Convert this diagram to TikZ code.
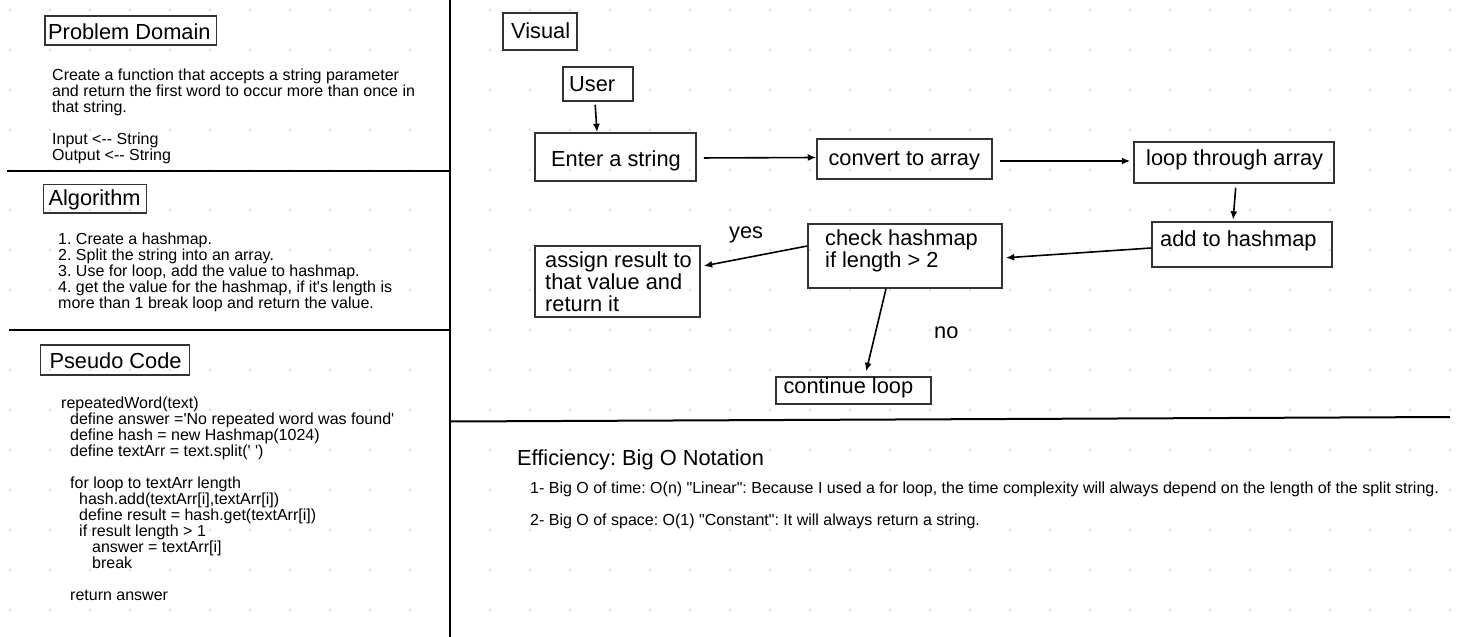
\documentclass[tikz,border=0pt]{standalone}
\usepackage{fontspec}
\newfontfamily\af{Liberation Sans}
\usetikzlibrary{arrows.meta}
\definecolor{boxc}{RGB}{51,51,51}
\definecolor{dotc}{RGB}{212,212,212}
\frenchspacing
\begin{document}
\begin{tikzpicture}[x=1pt,y=-1pt,
  box/.style={draw=boxc, line width=1.5pt, inner sep=0pt},
  big/.style={inner sep=0pt, anchor=base west, font=\af\frenchspacing\fontsize{21.8}{22}\selectfont},
  bigml/.style={inner sep=0pt, anchor=north west, align=left, font=\af\frenchspacing\fontsize{21.8}{22}\selectfont},
  body/.style={inner sep=0pt, anchor=north west, align=left, font=\af\frenchspacing\fontsize{16}{16}\selectfont},
  small/.style={inner sep=0pt, anchor=base west, font=\af\frenchspacing\fontsize{16}{16}\selectfont},
  arr/.style={line width=1.6pt, -{Latex[length=8.5pt,width=7pt]}},
  divider/.style={line width=2pt}]
\useasboundingbox (0,0) rectangle (1457,637);
\fill[white] (0,0) rectangle (1457,637);
% dot grid
\foreach \gx in {10,50,...,1450} {
  \foreach \gy in {10,50,...,630} {
    \fill[dotc] (\gx,\gy) circle[radius=1.1pt];
  }
}
% dividers
\draw[divider] (450,0) -- (450,637);
\draw[divider] (7,171) -- (450,171);
\draw[divider] (9,330) -- (450,330);
\draw[divider] (450,421.5) -- (1450,417);

% left panel: Problem Domain
\node[box, minimum width=171.5pt, minimum height=29pt] (pd) at (130.75,30.5) {};
\node[big] (pdT) at (48,39.3) {Problem Domain};
\node[body] (pdB) at (52,68.4) {Create a function that accepts a string parameter\\
and return the first word to occur more than once in\\
that string.\\[16pt]
Input <-- String\\
Output <-- String};

% Algorithm
\node[box, minimum width=103pt, minimum height=28.5pt] (alg) at (95,198.75) {};
\node[big] (algT) at (48.3,205) {Algorithm};
\node[body] (algB) at (58,232.4) {1. Create a hashmap.\\
2. Split the string into an array.\\
3. Use for loop, add the value to hashmap.\\
4. get the value for the hashmap, if it's length is\\
more than 1 break loop and return the value.};

% Pseudo Code
\node[box, minimum width=148.6pt, minimum height=30pt] (ps) at (115,360) {};
\node[big] (psT) at (49.3,368.3) {Pseudo Code};
\node[body] (psB) at (61,396.6) {repeatedWord(text)\\
\hspace*{9pt}define answer ='No repeated word was found'\\
\hspace*{9pt}define hash = new Hashmap(1024)\\
\hspace*{9pt}define textArr = text.split(' ')\\[16pt]
\hspace*{9pt}for loop to textArr length\\
\hspace*{18pt}hash.add(textArr[i],textArr[i])\\
\hspace*{18pt}define result = hash.get(textArr[i])\\
\hspace*{18pt}if result length > 1\\
\hspace*{31pt}answer = textArr[i]\\
\hspace*{31pt}break\\[16pt]
\hspace*{9pt}return answer};

% Visual
\node[box, minimum width=74pt, minimum height=37pt] (vis) at (540,31.5) {};
\node[big] (visT) at (511,38.3) {Visual};

% flowchart boxes
\node[box, minimum width=70pt, minimum height=34pt] (user) at (598,84) {};
\node[big] (userT) at (569,91.7) {User};
\node[box, minimum width=161pt, minimum height=48pt] (enter) at (615.5,157) {};
\node[big] (enterT) at (551,166) {Enter a string};
\node[box, minimum width=175pt, minimum height=40pt] (conv) at (904.5,159) {};
\node[big] (convT) at (828.3,165.7) {convert to array};
\node[box, minimum width=200pt, minimum height=41pt] (loop) at (1234,162.5) {};
\node[big] (loopT) at (1146,165) {loop through array};
\node[box, minimum width=180pt, minimum height=45pt] (add) at (1242,244.5) {};
\node[big] (addT) at (1160,246) {add to hashmap};
\node[box, minimum width=194pt, minimum height=64pt] (check) at (905,256) {};
\node[bigml] (checkT) at (825,229.4) {check hashmap\\if length > 2};
\node[box, minimum width=165pt, minimum height=71pt] (assign) at (617.5,281.5) {};
\node[bigml] (assignT) at (545,251.1) {assign result to\\that value and\\return it};
\node[box, minimum width=155pt, minimum height=27pt] (cont) at (853.5,390.5) {};
\node[big] (contT) at (783.3,393.3) {continue loop};
\node[big] (yes) at (729,238.3) {yes};
\node[big] (no) at (934,338.3) {no};

% connectors
\draw[arr, shorten <=3pt] ([xshift=-3pt]user.south) -- ([xshift=-18.5pt]enter.north);
\draw[arr, shorten <=7pt] ([yshift=-1pt]enter.east) -- ([yshift=1.5pt]conv.west);
\draw[arr, shorten <=7pt, shorten >=3pt] ([yshift=-2pt]conv.east) -- ([yshift=1.5pt]loop.west);
\draw[arr, shorten <=4pt, shorten >=1.5pt] ([xshift=2pt]loop.south) -- ([xshift=-9pt]add.north);
\draw[arr, shorten >=3pt] ([yshift=-3.5pt]add.west) -- ([yshift=-2pt]check.east);
\draw[arr, shorten >=3pt] ([yshift=10pt]check.west) -- ([yshift=15pt]assign.east);
\draw[arr, shorten >=5pt] ([xshift=-19pt]check.south) -- ([xshift=11.5pt]cont.north);

% efficiency
\node[big] (effT) at (517,465) {Efficiency: Big O Notation};
\node[small] (eff1) at (530,493) {1- Big O of time: O(n) "Linear": Because I used a for loop, the time complexity will always depend on the length of the split string.};
\node[small] (eff2) at (530,525) {2- Big O of space: O(1) "Constant": It will always return a string.};
\end{tikzpicture}
\end{document}
